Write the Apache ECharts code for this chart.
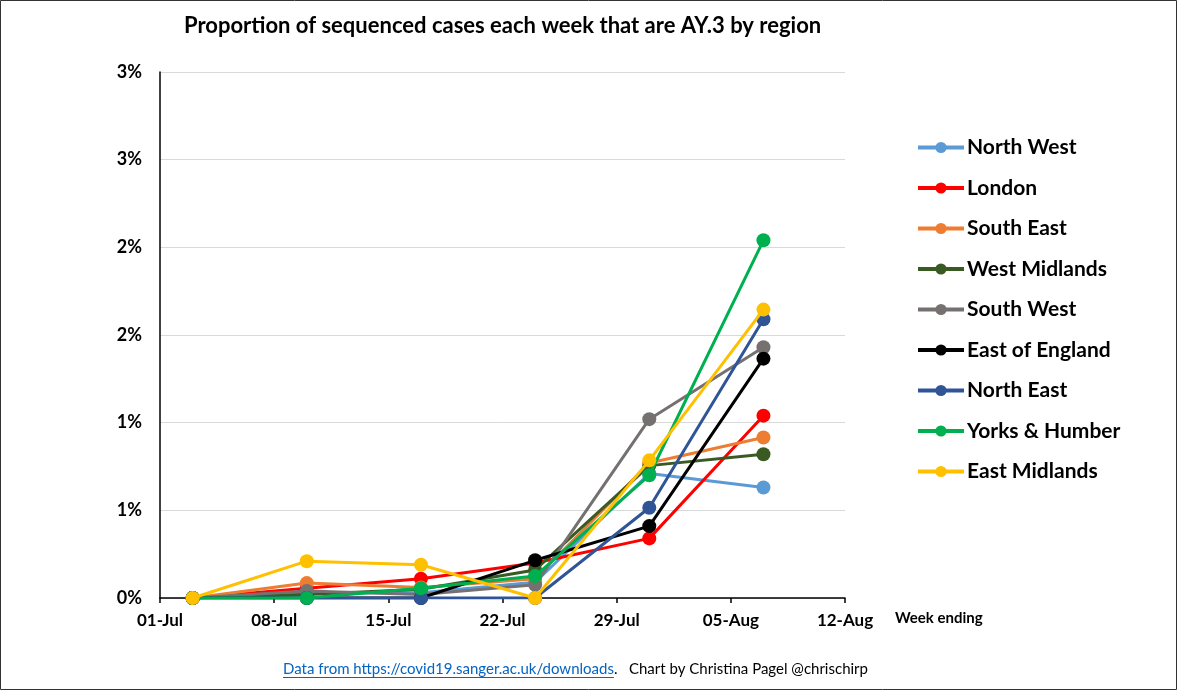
<!DOCTYPE html>
<html><head><meta charset="utf-8">
<script src="https://cdn.jsdelivr.net/npm/echarts@6/dist/echarts.min.js"></script>
<style>html,body{margin:0;padding:0;background:#fff}#c{width:1177px;height:690px}</style>
</head><body><div id="c"></div>
<script>
// ---- data ----
const axisStart = '2021-07-01';
const weekEnding = ['2021-07-03','2021-07-10','2021-07-17','2021-07-24','2021-07-31','2021-08-07'];
const tickLabels = ['01-Jul','08-Jul','15-Jul','22-Jul','29-Jul','05-Aug','12-Aug'];
const regions = ['North West','London','South East','West Midlands','South West','East of England','North East','Yorks & Humber','East Midlands'];
const colors = ['#5B9BD5','#FF0000','#ED7D31','#3A5A23','#767171','#000000','#2F5597','#00B050','#FFC000'];
// values in percent
const northWest     = [0, 0.03, 0.03, 0.09, 0.71, 0.63];
const london        = [0, 0.055, 0.11, 0.20, 0.34, 1.04];
const southEast     = [0, 0.085, 0.06, 0.11, 0.77, 0.915];
const westMidlands  = [0, 0.02, 0.05, 0.16, 0.755, 0.82];
const southWest     = [0, 0.04, 0.02, 0.075, 1.02, 1.43];
const eastOfEngland = [0, 0, 0, 0.215, 0.41, 1.365];
const northEast     = [0, 0, 0, 0, 0.515, 1.59];
const yorksHumber   = [0, 0, 0.055, 0.125, 0.70, 2.04];
const eastMidlands  = [0, 0.21, 0.19, 0, 0.785, 1.645];
const seriesValues = [northWest, london, southEast, westMidlands, southWest, eastOfEngland, northEast, yorksHumber, eastMidlands];

const DAY = 86400000;
const t0 = Date.parse(axisStart);
const xDays = weekEnding.map(d => (Date.parse(d) - t0) / DAY);

const FONT = 'Lato, "Open Sans", sans-serif';

const series = regions.map((name, i) => ({
  name, type: 'line',
  data: seriesValues[i].map((v, j) => [xDays[j], v]),
  symbol: 'circle', symbolSize: 14, showAllSymbol: true,
  lineStyle: { width: 3, color: colors[i] },
  itemStyle: { color: colors[i] },
  emphasis: { disabled: true },
  z: 2 + i
}));

// footer measurement for underline
const cv = document.createElement('canvas').getContext('2d');
const footFont = '15px Lato';
cv.font = footFont;
const linkText = 'Data from https://covid19.sanger.ac.uk/downloads';
const linkW = cv.measureText(linkText).width;
const footX = 283, footY = 669;

const chart = echarts.init(document.getElementById('c'), null, { renderer: 'canvas' });
chart.setOption({
  animation: false,
  backgroundColor: '#fff',
  color: colors,
  title: {
    text: 'Proportion of sequenced cases each week that are AY.3 by region',
    left: 184, top: 15, padding: 0,
    textStyle: { fontFamily: FONT, fontWeight: 'bold', fontSize: 22, color: '#000' }
  },
  grid: { left: 160, right: 332, top: 72, bottom: 92, containLabel: false },
  legend: {
    orient: 'vertical', left: 916, top: 137, padding: 0,
    itemWidth: 46, itemHeight: 14, itemGap: 19.5,
    lineStyle: { width: 4 },
    textStyle: { fontFamily: FONT, fontWeight: 'bold', fontSize: 21, color: '#000', lineHeight: 21, padding: [0, 0, 0, -2] },
    data: regions
  },
  xAxis: {
    type: 'value', min: 0, max: 42, interval: 7,
    axisLine: { show: true, lineStyle: { color: '#000', width: 1.5 } },
    axisTick: { show: true, inside: false, length: 5, lineStyle: { color: '#000', width: 1.5 } },
    splitLine: { show: false },
    axisLabel: {
      margin: 14, color: '#000', fontFamily: FONT, fontWeight: 'bold', fontSize: 17,
      formatter: v => tickLabels[Math.round(v / 7)] || ''
    }
  },
  yAxis: {
    type: 'value', min: 0, max: 3, interval: 0.5,
    axisLine: { show: true, lineStyle: { color: '#000', width: 1.5 } },
    axisTick: { show: false },
    splitLine: { show: true, lineStyle: { color: '#D9D9D9', width: 1 } },
    axisLabel: {
      margin: 18, color: '#000', fontFamily: FONT, fontWeight: 'bold', fontSize: 18,
      formatter: v => Math.round(v) + '%'
    }
  },
  graphic: [
    { type: 'rect', shape: { x: 0.5, y: 0.5, width: 1176, height: 689 }, style: { fill: 'none', stroke: '#333', lineWidth: 1 }, silent: true },
    { type: 'text', left: 895, top: 611, style: { text: 'Week ending', fontFamily: FONT, fontWeight: 'bold', fontSize: 15, fill: '#000' } },
    { type: 'text', x: footX, y: footY, style: { text: linkText, font: footFont, fill: '#0563C1', verticalAlign: 'middle', align: 'left' } },
    { type: 'line', shape: { x1: footX, y1: footY + 8.5, x2: footX + linkW, y2: footY + 8.5 }, style: { stroke: '#0563C1', lineWidth: 1 } },
    { type: 'text', x: footX + linkW, y: footY, style: { text: '.   Chart by Christina Pagel @chrischirp', font: footFont, fill: '#000', verticalAlign: 'middle', align: 'left' } }
  ],
  series
});
</script>
</body></html>
